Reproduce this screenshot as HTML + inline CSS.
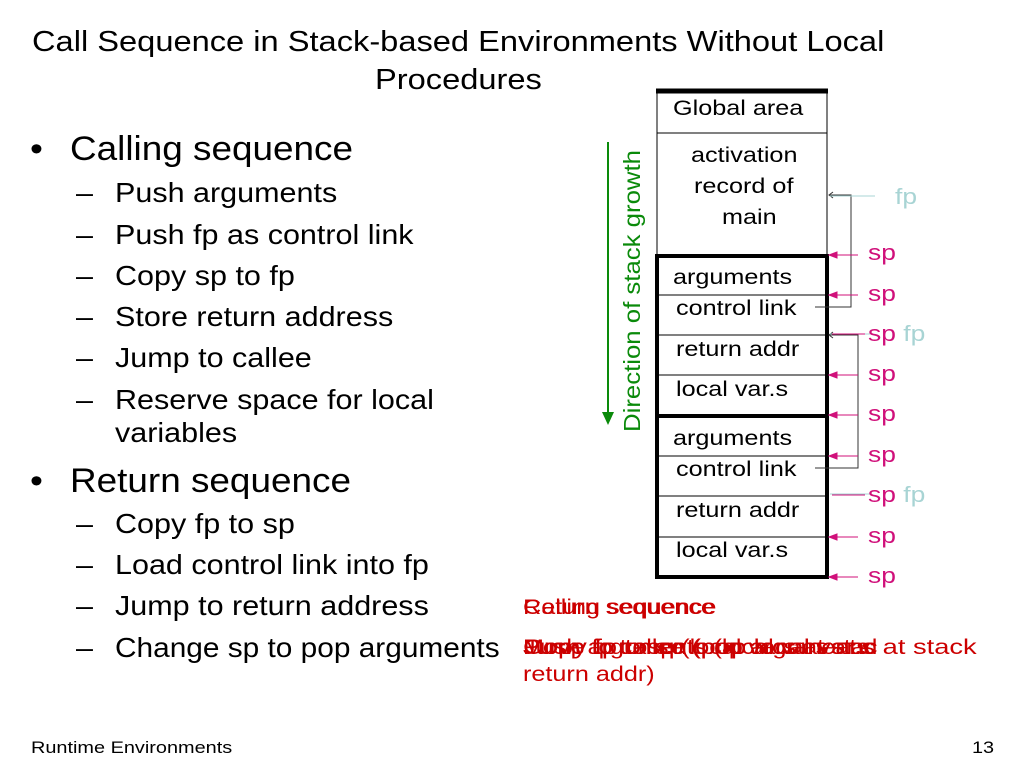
<!DOCTYPE html>
<html><head><meta charset="utf-8"><style>
body{margin:0;width:1024px;height:768px;background:#fff;position:relative;overflow:hidden;font-family:"Liberation Sans",sans-serif}
.a{position:absolute;white-space:nowrap;transform-origin:0 0}
.t{font-size:29px;color:#000;transform:scaleX(1.125)}
.b1{font-size:34px;transform:scaleX(1.085)}
.b2{font-size:28px;transform:scaleX(1.09)}
.d{font-size:21px;transform:scaleX(1.2)}
.s{font-size:22px;transform:scaleX(1.2)}
.r{color:#c00;font-size:21px;transform:scaleX(1.2)}
.f{font-size:17px;transform:scaleX(1.17)}
</style></head><body>
<div class="a t" style="left:32px;top:26px">Call Sequence in Stack-based Environments Without Local</div>
<div class="a t" style="left:375px;top:64px">Procedures</div>

<div class="a b1" style="left:30px;top:130px">•</div><div class="a b1" style="left:70px;top:130px">Calling sequence</div>
<div class="a b2" style="left:76px;top:177px">–</div><div class="a b2" style="left:115px;top:177px">Push arguments</div>
<div class="a b2" style="left:76px;top:219px">–</div><div class="a b2" style="left:115px;top:219px">Push fp as control link</div>
<div class="a b2" style="left:76px;top:260px">–</div><div class="a b2" style="left:115px;top:260px">Copy sp to fp</div>
<div class="a b2" style="left:76px;top:301px">–</div><div class="a b2" style="left:115px;top:301px">Store return address</div>
<div class="a b2" style="left:76px;top:342px">–</div><div class="a b2" style="left:115px;top:342px">Jump to callee</div>
<div class="a b2" style="left:76px;top:384px">–</div><div class="a b2" style="left:115px;top:384px">Reserve space for local</div>
<div class="a b2" style="left:115px;top:417px">variables</div>
<div class="a b1" style="left:30px;top:462px">•</div><div class="a b1" style="left:70px;top:462px">Return sequence</div>
<div class="a b2" style="left:76px;top:508px">–</div><div class="a b2" style="left:115px;top:508px">Copy fp to sp</div>
<div class="a b2" style="left:76px;top:549px">–</div><div class="a b2" style="left:115px;top:549px">Load control link into fp</div>
<div class="a b2" style="left:76px;top:590px">–</div><div class="a b2" style="left:115px;top:590px">Jump to return address</div>
<div class="a b2" style="left:76px;top:632px">–</div><div class="a b2" style="left:115px;top:632px;transform:scaleX(1.065)">Change sp to pop arguments</div>

<div class="a r" style="left:523px;top:596px">Calling sequence</div>
<div class="a r" style="left:523px;top:596px">Return sequence</div>
<div class="a r" style="left:523px;top:636px">Push arguments (local vars and</div>
<div class="a r" style="left:523px;top:636px;transform:scaleX(1.3)">Copy fp to sp (pop local var.s at stack</div>
<div class="a r" style="left:523px;top:636px">Jump to callee (pop arguments</div>
<div class="a r" style="left:523px;top:636px">Move fp to sp (local vars at stac</div>
<div class="a r" style="left:523px;top:663px">return addr)</div>

<svg class="a" style="left:0;top:0" width="1024" height="768">
<g fill="none" stroke="#000">
<rect x="657" y="91" width="170" height="486" stroke-width="1"/>
<line x1="656" y1="91" x2="828" y2="91" stroke-width="5"/>
<line x1="657" y1="133" x2="827" y2="133"/>
<rect x="657" y="256" width="170" height="160" stroke-width="4"/>
<rect x="657" y="416" width="170" height="161" stroke-width="4"/>
<line x1="657" y1="295" x2="827" y2="295"/>
<line x1="657" y1="335" x2="827" y2="335"/>
<line x1="657" y1="375" x2="827" y2="375"/>
<line x1="657" y1="456" x2="827" y2="456"/>
<line x1="657" y1="496" x2="827" y2="496"/>
<line x1="657" y1="537" x2="827" y2="537"/>
<polyline points="815,307 851,307 851,195 830,195" stroke="#333"/>
<polyline points="833,192 829,195 833,198" stroke="#333"/>
<polyline points="815,468 858,468 858,335 830,335" stroke="#333"/>
<polyline points="833,332 829,335 833,338" stroke="#333"/>
</g>
<g stroke="#a8d4d4" fill="none"><line x1="830" y1="196" x2="875" y2="196"/><line x1="830" y1="334" x2="870" y2="334"/><line x1="830" y1="494" x2="870" y2="494"/></g>
<g stroke="#d0107a" fill="#d0107a">
<line x1="832" y1="255" x2="858" y2="255"/><line x1="832" y1="295" x2="858" y2="295"/><line x1="832" y1="375" x2="858" y2="375"/><line x1="832" y1="415" x2="858" y2="415"/><line x1="832" y1="456" x2="858" y2="456"/><line x1="832" y1="537" x2="858" y2="537"/><line x1="832" y1="577" x2="858" y2="577"/><line x1="832" y1="334" x2="865" y2="334"/><line x1="832" y1="495" x2="865" y2="495"/>
<polygon points="829,255 837,252 837,258"/><polygon points="829,295 837,292 837,298"/><polygon points="829,375 837,372 837,378"/><polygon points="829,415 837,412 837,418"/><polygon points="829,456 837,453 837,459"/><polygon points="829,537 837,534 837,540"/><polygon points="829,577 837,574 837,580"/>
</g>
<line x1="608" y1="142" x2="608" y2="415" stroke="#0a8a0a" stroke-width="2"/>
<polygon points="602,412 614,412 608,425" fill="#0a8a0a"/>
<text transform="translate(640,432) rotate(-90)" font-family="Liberation Sans" font-size="23" fill="#0a8a0a" textLength="282" lengthAdjust="spacingAndGlyphs">Direction of stack growth</text>
</svg>

<div class="a d" style="left:673px;top:97px">Global area</div>
<div class="a d" style="left:691px;top:144px">activation</div>
<div class="a d" style="left:694px;top:175px">record of</div>
<div class="a d" style="left:722px;top:206px">main</div>
<div class="a d" style="left:673px;top:266px">arguments</div>
<div class="a d" style="left:676px;top:297px">control link</div>
<div class="a d" style="left:676px;top:338px">return addr</div>
<div class="a d" style="left:676px;top:378px">local var.s</div>
<div class="a d" style="left:673px;top:427px">arguments</div>
<div class="a d" style="left:676px;top:458px">control link</div>
<div class="a d" style="left:676px;top:499px">return addr</div>
<div class="a d" style="left:676px;top:539px">local var.s</div>

<div class="a s" style="left:895px;top:184px;color:#a8d4d4">fp</div>
<div class="a s" style="left:868px;top:240px;color:#d0107a">sp</div>
<div class="a s" style="left:868px;top:281px;color:#d0107a">sp</div>
<div class="a s" style="left:868px;top:321px;color:#d0107a">sp <span style="color:#a8d4d4">fp</span></div>
<div class="a s" style="left:868px;top:361px;color:#d0107a">sp</div>
<div class="a s" style="left:868px;top:401px;color:#d0107a">sp</div>
<div class="a s" style="left:868px;top:442px;color:#d0107a">sp</div>
<div class="a s" style="left:868px;top:482px;color:#d0107a">sp <span style="color:#a8d4d4">fp</span></div>
<div class="a s" style="left:868px;top:523px;color:#d0107a">sp</div>
<div class="a s" style="left:868px;top:563px;color:#d0107a">sp</div>

<div class="a f" style="left:31px;top:738px">Runtime Environments</div>
<div class="a f" style="left:972px;top:738px">13</div>
</body></html>
